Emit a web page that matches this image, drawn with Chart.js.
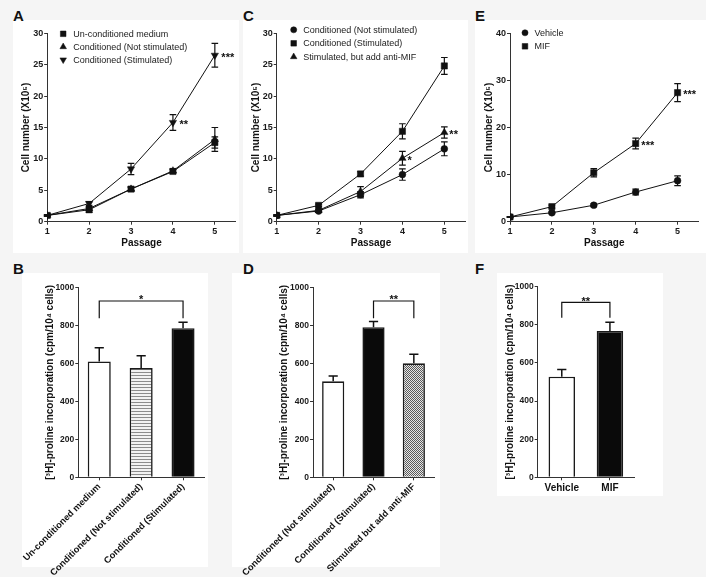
<!DOCTYPE html>
<html><head><meta charset="utf-8">
<script src="https://cdn.jsdelivr.net/npm/chart.js@4.4.1/dist/chart.umd.min.js"></script>
<style>
html,body{margin:0;padding:0;background:#f5f5f5;}
#fig{position:relative;width:706px;height:577px;overflow:hidden;font-family:'Liberation Sans',Arial,Helvetica,sans-serif;}
.box{position:absolute;background:#fff;}
.lab{position:absolute;font-weight:bold;font-size:15px;line-height:15px;color:#111;}
canvas{position:absolute;}
</style></head><body>
<div id="fig">
  <div class="box" style="left:13px;top:20px;width:226px;height:233px"></div>
  <div class="box" style="left:243px;top:20px;width:225px;height:233px"></div>
  <div class="box" style="left:475px;top:20px;width:231px;height:233px"></div>
  <div class="box" style="left:22px;top:273px;width:186px;height:294px"></div>
  <div class="box" style="left:232px;top:273px;width:208px;height:294px"></div>
  <div class="box" style="left:497px;top:273px;width:166px;height:223px"></div>
  <div class="lab" style="left:13px;top:8px">A</div>
  <div class="lab" style="left:243px;top:8px">C</div>
  <div class="lab" style="left:475px;top:8px">E</div>
  <div class="lab" style="left:13px;top:261px">B</div>
  <div class="lab" style="left:243px;top:261px">D</div>
  <div class="lab" style="left:475px;top:261px">F</div>
  <canvas id="cA" width="240" height="255" style="left:0;top:0"></canvas>
  <canvas id="cC" width="240" height="255" style="left:230px;top:0"></canvas>
  <canvas id="cE" width="246" height="255" style="left:460px;top:0"></canvas>
  <canvas id="cB" width="215" height="307" style="left:0;top:270px"></canvas>
  <canvas id="cD" width="215" height="307" style="left:230px;top:270px"></canvas>
  <canvas id="cF" width="246" height="240" style="left:460px;top:270px"></canvas>
</div>
<script>
// ---------------- DATA ----------------
const passages = [1, 2, 3, 4, 5];
const passageTicks = [1, 2, 3, 4, 5];

// Panel A
const aUncond = [1.0, 1.9, 5.2, 8.0, 12.6];
const aUncondErr = [0.1, 0.4, 0.3, 0.3, 0.9];
const aCondNS = [1.0, 2.1, 5.2, 8.1, 13.1];
const aCondNSErr = [0.1, 0.3, 0.3, 0.3, 1.9];
const aCondS = [1.0, 2.9, 8.4, 15.8, 26.5];
const aCondSErr = [0.1, 0.3, 0.9, 1.25, 1.9];
const aCondSStars = ['', '', '', '**', '***'];
const aLabels = ['Un-conditioned medium', 'Conditioned (Not stimulated)', 'Conditioned (Stimulated)'];

// Panel C
const cCondNS = [1.0, 1.7, 4.3, 7.5, 11.6];
const cCondNSErr = [0.1, 0.2, 0.5, 0.9, 1.1];
const cCondS = [1.0, 2.6, 7.6, 14.4, 24.8];
const cCondSErr = [0.1, 0.2, 0.35, 1.2, 1.35];
const cAnti = [1.0, 1.8, 4.8, 10.1, 14.2];
const cAntiErr = [0.1, 0.2, 0.8, 1.1, 0.9];
const cAntiStars = ['', '', '', '*', '**'];
const cLabels = ['Conditioned (Not stimulated)', 'Conditioned (Stimulated)', 'Stimulated, but add anti-MIF'];

// Panel E
const eVehicle = [1.0, 1.9, 3.5, 6.3, 8.7];
const eVehicleErr = [0.1, 0.2, 0.3, 0.6, 1.05];
const eMIF = [1.0, 3.2, 10.4, 16.6, 27.4];
const eMIFErr = [0.1, 0.3, 0.9, 1.15, 1.9];
const eMIFStars = ['', '', '', '***', '***'];
const eLabels = ['Vehicle', 'MIF'];

// Panel B
const bCats = ['Un-conditioned medium', 'Conditioned (Not stimulated)', 'Conditioned (Stimulated)'];
const bVals = [610, 575, 785];
const bErr = [72, 65, 31];
const bSig = [0, 2, 928, 837, '*'];   // from, to, bracket value, leg value, label

// Panel D
const dCats = ['Conditioned (Not stimulated)', 'Conditioned (Stimulated)', 'Stimulated but add anti-MIF'];
const dVals = [505, 790, 600];
const dErr = [28, 30, 47];
const dSig = [1, 2, 928, 837, '**'];

// Panel F
const fCats = ['Vehicle', 'MIF'];
const fVals = [528, 768];
const fErr = [38, 45];
const fSig = [0, 1, 918, 837, '**'];

// ---------------- STYLE / HELPERS ----------------
const FONT = "'Liberation Sans', Arial, Helvetica, 'DejaVu Sans', sans-serif";
Chart.defaults.font.family = FONT;
Chart.defaults.color = '#111';
const AX = '#333';
const INK = '#111';

const errPlugin = {
  id: 'errbars',
  beforeDatasetsDraw(chart, a, o) { if (o.when === 'before') drawErr(chart, o); },
  afterDatasetsDraw(chart, a, o) { if (o.when === 'after') drawErr(chart, o); }
};
function drawErr(chart, o) {
  const ctx = chart.ctx, ys = chart.scales.y;
  chart.data.datasets.forEach((ds, i) => {
    if (!ds.errors) return;
    const meta = chart.getDatasetMeta(i);
    meta.data.forEach((el, j) => {
      const raw = ds.data[j];
      const v = (typeof raw === 'object') ? raw.y : raw;
      const e = ds.errors[j];
      const yT = ys.getPixelForValue(v + e);
      const yB = o.upOnly ? ys.getPixelForValue(v) : ys.getPixelForValue(v - e);
      ctx.save();
      ctx.strokeStyle = INK; ctx.lineWidth = o.width;
      ctx.beginPath();
      ctx.moveTo(el.x, yT); ctx.lineTo(el.x, yB);
      ctx.moveTo(el.x - o.cap, yT); ctx.lineTo(el.x + o.cap, yT);
      if (!o.upOnly) { ctx.moveTo(el.x - o.cap, yB); ctx.lineTo(el.x + o.cap, yB); }
      ctx.stroke();
      ctx.restore();
    });
  });
}

const starPlugin = {
  id: 'stars',
  afterDatasetsDraw(chart, a, o) {
    const ctx = chart.ctx;
    chart.data.datasets.forEach((ds, i) => {
      if (!ds.stars) return;
      const meta = chart.getDatasetMeta(i);
      meta.data.forEach((el, j) => {
        const s = ds.stars[j];
        if (!s) return;
        ctx.save();
        ctx.font = 'bold 11px ' + FONT;
        ctx.fillStyle = INK; ctx.textAlign = 'left'; ctx.textBaseline = 'alphabetic';
        ctx.fillText(s, el.x + o.dx, el.y + o.dy);
        ctx.restore();
      });
    });
  }
};

const legendPlugin = {
  id: 'inlegend',
  afterDraw(chart, a, o) {
    const ctx = chart.ctx, ca = chart.chartArea;
    chart.data.datasets.forEach((ds, i) => {
      const y = ca.top + o.dy + i * o.row;
      const x = ca.left + o.dx;
      ctx.save();
      ctx.fillStyle = INK; ctx.strokeStyle = INK; ctx.lineWidth = 0.5;
      Chart.helpers.drawPoint(ctx, {pointStyle: ds.pointStyle, rotation: ds.pointRotation || 0,
        radius: ds.pointRadius * 0.9, borderWidth: 0.5}, x, y);
      ctx.font = '9px ' + FONT;
      ctx.fillStyle = '#1a1a1a'; ctx.textAlign = 'left'; ctx.textBaseline = 'middle';
      ctx.fillText(ds.label, x + o.tx, y + 0.5);
      ctx.restore();
    });
  }
};

const bracketPlugin = {
  id: 'bracket',
  afterDatasetsDraw(chart, a, o) {
    const ctx = chart.ctx, xs = chart.scales.x, ys = chart.scales.y;
    const [from, to, top, leg, txt] = o.sig;
    const x1 = xs.getPixelForValue(from), x2 = xs.getPixelForValue(to);
    const yT = ys.getPixelForValue(top), yL = ys.getPixelForValue(leg);
    ctx.save();
    ctx.strokeStyle = INK; ctx.lineWidth = 1.2;
    ctx.beginPath();
    ctx.moveTo(x1, yL); ctx.lineTo(x1, yT); ctx.lineTo(x2, yT); ctx.lineTo(x2, yL);
    ctx.stroke();
    ctx.font = 'bold 11px ' + FONT;
    ctx.fillStyle = INK; ctx.textAlign = 'center'; ctx.textBaseline = 'alphabetic';
    ctx.fillText(txt, (x1 + x2) / 2, yT + 2.5);
    ctx.restore();
  }
};

function stripes() {
  const c = document.createElement('canvas'); c.width = 4; c.height = 3;
  const g = c.getContext('2d');
  g.fillStyle = '#f2f2f2'; g.fillRect(0, 0, 4, 3);
  g.fillStyle = '#8c8c8c'; g.fillRect(0, 0, 4, 1);
  return g.createPattern(c, 'repeat');
}
function checks() {
  const c = document.createElement('canvas'); c.width = 2; c.height = 2;
  const g = c.getContext('2d');
  g.fillStyle = '#e6e6e6'; g.fillRect(0, 0, 2, 2);
  g.fillStyle = '#5a5a5a'; g.fillRect(0, 0, 1, 1); g.fillRect(1, 1, 1, 1);
  return g.createPattern(c, 'repeat');
}

function axisBase(size) {
  return {
    border: {display: true, color: AX, width: 1},
    grid: {display: true, drawOnChartArea: false, drawTicks: true, tickLength: 3, color: AX, tickColor: AX, tickWidth: 1},
    ticks: {font: {size: size, weight: 'bold'}, color: '#1a1a1a', padding: 1}
  };
}

function series(label, values, errors, style, r, rot, stars) {
  return {
    label: label,
    data: passages.map((p, i) => ({x: p, y: values[i]})),
    errors: errors, stars: stars || null,
    pointStyle: style, pointRotation: rot, pointRadius: r, pointHoverRadius: r,
    borderColor: INK, backgroundColor: INK, pointBackgroundColor: INK, pointBorderColor: INK,
    borderWidth: 1, pointBorderWidth: 0.5, tension: 0, fill: false
  };
}

function lineChart(id, datasets, yMax, yStep, pad, yW, legend, starDx) {
  const xAx = axisBase(9), yAx = axisBase(9);
  Object.assign(xAx, {
    type: 'linear', min: 1, max: 5.5,
    afterBuildTicks: s => { s.ticks = passageTicks.map(v => ({value: v})); },
    title: {display: true, text: 'Passage', font: {size: 10, weight: 'bold'}, padding: 0, color: INK},
    afterFit: s => { s.height = 27.3; }
  });
  xAx.ticks.maxRotation = 0;
  xAx.ticks.callback = v => String(v);
  Object.assign(yAx, {
    min: 0, max: yMax,
    title: {display: true, text: 'Cell number (X10\u2075)', font: {size: 10, weight: 'bold'}, padding: 0, color: INK},
    afterFit: s => { s.width = yW; }
  });
  yAx.ticks.stepSize = yStep;
  yAx.ticks.callback = v => String(v);
  return new Chart(document.getElementById(id), {
    type: 'line',
    data: {datasets: datasets},
    options: {
      responsive: false, animation: false, devicePixelRatio: 1,
      layout: {padding: pad, autoPadding: false},
      scales: {x: xAx, y: yAx},
      plugins: {
        legend: {display: false}, tooltip: {enabled: false},
        errbars: {when: 'before', width: 1.2, cap: 3.3, upOnly: false},
        stars: {dx: starDx, dy: 5.5},
        inlegend: legend
      }
    },
    plugins: [errPlugin, starPlugin, legendPlugin]
  });
}

function barChart(id, cats, vals, errs, fills, sig, pad, yW, xH, rot) {
  const xAx = axisBase(10), yAx = axisBase(8.5);
  Object.assign(xAx, {
    type: 'category', offset: true,
    afterFit: s => { s.height = xH; }
  });
  xAx.grid.offset = false;
  xAx.ticks.font = {size: rot ? 9.2 : 10, weight: 'bold'};
  xAx.ticks.color = INK;
  xAx.ticks.autoSkip = false;
  xAx.ticks.minRotation = rot; xAx.ticks.maxRotation = rot;
  xAx.ticks.padding = rot ? 1 : 2;
  Object.assign(yAx, {
    min: 0, max: 1000,
    title: {display: true, text: '[\u00b3H]-proline incorporation (cpm/10\u2074 cells)', font: {size: 10, weight: 'bold'}, padding: 0, color: INK},
    afterFit: s => { s.width = yW; }
  });
  yAx.ticks.stepSize = 200;
  yAx.ticks.callback = v => String(v);
  return new Chart(document.getElementById(id), {
    type: 'bar',
    data: {labels: cats, datasets: [{
      label: 'proline', data: vals, errors: errs,
      backgroundColor: fills, borderColor: '#1a1a1a', borderWidth: 1.6,
      barPercentage: 0.55, categoryPercentage: 1
    }]},
    options: {
      responsive: false, animation: false, devicePixelRatio: 1,
      layout: {padding: pad, autoPadding: false},
      scales: {x: xAx, y: yAx},
      plugins: {
        legend: {display: false}, tooltip: {enabled: false},
        errbars: {when: 'after', width: 1.5, cap: 4.6, upOnly: true},
        bracket: {sig: sig}
      }
    },
    plugins: [errPlugin, bracketPlugin]
  });
}

// ---------------- CHARTS ----------------
lineChart('cA', [
  series(aLabels[0], aUncond, aUncondErr, 'rect', 4.4, 0),
  series(aLabels[1], aCondNS, aCondNSErr, 'triangle', 4.2, 0),
  series(aLabels[2], aCondS, aCondSErr, 'triangle', 4.2, 180, aCondSStars)
], 30, 5, {left: 20.7, top: 33.3, right: 4.2, bottom: 6}, 26.5,
  {dx: 16, dy: 0.5, row: 13, tx: 10}, 6.5);

lineChart('cC', [
  series(cLabels[0], cCondNS, cCondNSErr, 'circle', 3.4, 0),
  series(cLabels[1], cCondS, cCondSErr, 'rect', 4.4, 0),
  series(cLabels[2], cAnti, cAntiErr, 'triangle', 4.2, 0, cAntiStars)
], 30, 5, {left: 20.7, top: 33.3, right: 4.7, bottom: 6}, 26,
  {dx: 17, dy: -3.5, row: 13.5, tx: 9.5}, 5);

lineChart('cE', [
  series(eLabels[0], eVehicle, eVehicleErr, 'circle', 3.4, 0),
  series(eLabels[1], eMIF, eMIFErr, 'rect', 4.4, 0, eMIFStars)
], 40, 10, {left: 23.3, top: 33.3, right: 7.5, bottom: 6}, 26.7,
  {dx: 15, dy: -0.5, row: 13.5, tx: 9.5}, 5.7);

barChart('cB', bCats, bVals, bErr, ['#ffffff', stripes(), '#0a0a0a'], bSig,
  {left: 44, top: 17.3, right: 11, bottom: 0}, 34.3, 99.7, 45);
barChart('cD', dCats, dVals, dErr, ['#ffffff', '#0a0a0a', checks()], dSig,
  {left: 44, top: 17.3, right: 11, bottom: 0}, 34.3, 99.7, 45);
barChart('cF', fCats, fVals, fErr, ['#ffffff', '#0a0a0a'], fSig,
  {left: 44.7, top: 16.7, right: 72, bottom: 0}, 33, 32.7, 0);
</script>
</body></html>
